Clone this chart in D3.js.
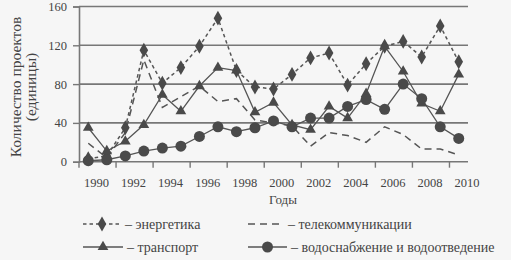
<!DOCTYPE html>
<html>
<head>
<meta charset="utf-8">
<script src="https://cdn.jsdelivr.net/npm/d3@7"></script>
<style>
  body { margin: 0; background: #f6f6f6; }
  svg { display: block; }
  text { font-family: "Liberation Serif", "Times New Roman", serif; fill: #444; }
</style>
</head>
<body>
<div id="chart"></div>
<script>
const years = d3.range(1990, 2011);
const yTicks = [0, 40, 80, 120, 160];
const xLabelYears = [1990, 1992, 1994, 1996, 1998, 2000, 2002, 2004, 2006, 2008, 2010];

// значения по годам 1990..2010
const energy    = [3, 6, 35, 115, 81, 97, 119, 148, 94, 77, 75, 90, 107, 112, 79, 101, 119, 124, 108, 140, 103];
const telecom   = [19, 4, 30, 105, 56, 67, 78, 62, 65, 43, 40, 37, 16, 30, 27, 20, 36, 28, 13, 13, 7];
const transport = [35, 11, 21, 38, 69, 52, 78, 97, 94, 51, 61, 38, 33, 57, 45, 70, 119, 93, 60, 52, 90];
const water     = [1, 2, 6, 11, 14, 16, 26, 36, 31, 35, 42, 36, 45, 45, 57, 64, 54, 80, 65, 36, 24];

const W = 511, H = 260;
const plotL = 79, plotR = 468, plotT = 6.5, plotB = 161.7;
const ink = "#4a4a4a";

const svg = d3.select("#chart").append("svg")
    .attr("width", W).attr("height", H);

let x = d3.scaleBand().domain(years).range([plotL, plotR]).padding(0);
let cx = d => x(d) + x.bandwidth() / 2;
let y = d3.scaleLinear().domain([0, 160]).range([plotB, plotT]);

// сетка
svg.append("g").selectAll("line")
    .data(yTicks)
    .enter().append("line")
    .attr("x1", plotL).attr("x2", plotR)
    .attr("y1", d => y(d)).attr("y2", d => y(d))
    .attr("stroke", "#777").attr("stroke-width", 1.6);

// ось Y
const yAxis = svg.append("g")
    .attr("transform", `translate(${plotL},0)`)
    .call(d3.axisLeft(y).tickValues(yTicks).tickSize(6).tickPadding(6));
yAxis.select(".domain").attr("stroke", "#777").attr("stroke-width", 1.6);
yAxis.selectAll(".tick line").attr("stroke", "#777").attr("stroke-width", 1.4);
yAxis.selectAll(".tick text")
    .style("font-family", "Liberation Serif").style("font-size", "12.5px").attr("fill", "#444");

// ось X: засечки на границах категорий, подписи между ними
svg.append("g").selectAll("line")
    .data(xLabelYears)
    .enter().append("line")
    .attr("x1", d => x(d)).attr("x2", d => x(d))
    .attr("y1", plotB).attr("y2", plotB + 6)
    .attr("stroke", "#777").attr("stroke-width", 1.4);

svg.append("g").selectAll("text")
    .data(xLabelYears)
    .enter().append("text")
    .attr("x", d => x(d) + x.bandwidth() - 1)
    .attr("y", 187)
    .attr("text-anchor", "middle")
    .style("font-size", "12.5px")
    .text(d => d);

svg.append("text")
    .attr("x", 283).attr("y", 204)
    .attr("text-anchor", "middle")
    .style("font-size", "13px")
    .text("Годы");

// подпись оси Y
const yl = svg.append("g").attr("transform", "translate(21,87) rotate(-90)");
yl.append("text").attr("text-anchor", "middle").attr("y", 0)
    .style("font-size", "15.5px").text("Количество проектов");
yl.append("text").attr("text-anchor", "middle").attr("y", 15)
    .style("font-size", "15.5px").text("(единицы)");

// линии
const line = d3.line().x((d, i) => cx(years[i])).y(d => y(d));

const series = [
    { values: telecom,   dash: "7,5",   marker: null },
    { values: energy,    dash: "3.5,3", marker: "diamond" },
    { values: transport, dash: null,    marker: "triangle" },
    { values: water,     dash: null,    marker: "circle" }
];

const symbols = {
    diamond: d3.symbol().type(d3.symbolDiamond).size(64),
    triangle: d3.symbol().type(d3.symbolTriangle).size(50),
    circle: d3.symbol().type(d3.symbolCircle).size(95)
};

series.forEach(s => {
    svg.append("path")
        .datum(s.values)
        .attr("fill", "none")
        .attr("stroke", "#555")
        .attr("stroke-width", s.dash ? 1.5 : 1.3)
        .attr("stroke-dasharray", s.dash)
        .attr("d", line);
});

series.forEach(s => {
    if (!s.marker) return;
    svg.append("g").selectAll("path")
        .data(s.values)
        .enter().append("path")
        .attr("transform", (d, i) => `translate(${cx(years[i])},${y(d)})`)
        .attr("d", symbols[s.marker])
        .attr("fill", ink);
});

// легенда
const legend = [
    { x1: 83,  x2: 121, yy: 224, dash: "3.5,3", marker: "diamond",  label: "– энергетика" },
    { x1: 248, x2: 284, yy: 224, dash: "7,5",   marker: null,       label: "– телекоммуникации" },
    { x1: 83,  x2: 123, yy: 247, dash: null,    marker: "triangle", label: "– транспорт" },
    { x1: 248, x2: 287, yy: 247, dash: null,    marker: "circle",   label: "– водоснабжение и водоотведение" }
];

legend.forEach(l => {
    svg.append("line")
        .attr("x1", l.x1).attr("x2", l.x2)
        .attr("y1", l.yy).attr("y2", l.yy)
        .attr("stroke", "#555").attr("stroke-width", 1.5)
        .attr("stroke-dasharray", l.dash);
    if (l.marker) {
        svg.append("path")
            .attr("transform", `translate(${(l.x1 + l.x2) / 2},${l.yy})`)
            .attr("d", symbols[l.marker])
            .attr("fill", ink);
    }
    svg.append("text")
        .attr("x", l.x2 + 4).attr("y", l.yy + 4.5)
        .style("font-size", "14px")
        .text(l.label);
});
</script>
</body>
</html>
